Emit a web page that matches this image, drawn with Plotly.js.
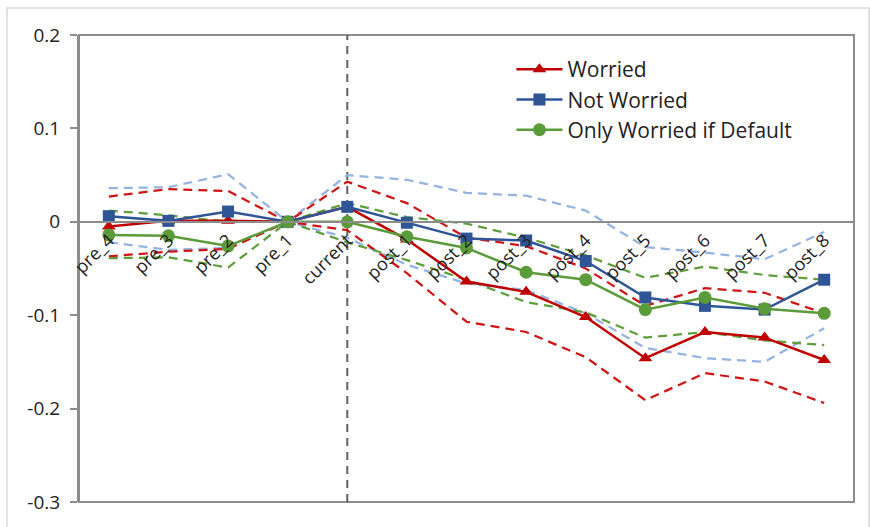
<!DOCTYPE html>
<html>
<head>
<meta charset="utf-8">
<script src="https://cdn.plot.ly/plotly-3.0.1.min.js"></script>
<style>
html,body{margin:0;padding:0;background:#fff;}
#chart{width:870px;height:527px;}
</style>
</head>
<body>
<div id="chart"></div>
<script>
var categories = ['pre_4','pre_3','pre_2','pre_1','current','post_1','post_2','post_3','post_4','post_5','post_6','post_7','post_8'];

var worried    = [-0.005, 0.001, 0.001, 0, 0.016, -0.019, -0.064, -0.075, -0.102, -0.146, -0.118, -0.124, -0.148];
var worriedHi  = [0.027, 0.035, 0.033, 0, 0.043, 0.020, -0.017, -0.026, -0.050, -0.090, -0.071, -0.076, -0.098];
var worriedLo  = [-0.037, -0.032, -0.029, 0, -0.009, -0.055, -0.107, -0.118, -0.145, -0.191, -0.162, -0.171, -0.194];

var notWorried   = [0.006, 0.001, 0.011, 0, 0.016, -0.001, -0.018, -0.020, -0.042, -0.081, -0.090, -0.094, -0.062];
var notWorriedHi = [0.036, 0.037, 0.051, 0, 0.050, 0.045, 0.031, 0.028, 0.012, -0.027, -0.033, -0.040, -0.011];
var notWorriedLo = [-0.022, -0.030, -0.028, 0, -0.017, -0.046, -0.066, -0.073, -0.098, -0.135, -0.146, -0.150, -0.114];

var onlyDefault   = [-0.014, -0.015, -0.026, 0, 0, -0.016, -0.028, -0.054, -0.062, -0.094, -0.081, -0.093, -0.098];
var onlyDefaultHi = [0.012, 0.007, 0, 0, 0.020, 0.005, -0.002, -0.017, -0.036, -0.060, -0.048, -0.057, -0.062];
var onlyDefaultLo = [-0.039, -0.038, -0.049, 0, -0.022, -0.041, -0.062, -0.086, -0.097, -0.124, -0.118, -0.127, -0.132];

var yTickVals = [0.2, 0.1, 0, -0.1, -0.2, -0.3];
var yTickText = ['0.2', '0.1', '0', '-0.1', '-0.2', '-0.3'];

var RED = '#C00000', BLUE = '#2F5597', GREEN = '#5B9B3A', LBLUE = '#95B3E0', DRED = '#D01515', DGREEN = '#5E9E3C';
var DASH = '9px,6px';

function band(y, color) {
  return {x: categories, y: y, type: 'scatter', mode: 'lines', showlegend: false, hoverinfo: 'skip',
          line: {color: color, width: 2.25, dash: DASH}};
}

var traces = [
  band(notWorriedHi, LBLUE), band(notWorriedLo, LBLUE),
  band(worriedHi, DRED), band(worriedLo, DRED),
  band(onlyDefaultHi, DGREEN), band(onlyDefaultLo, DGREEN),
  {x: categories, y: worried, name: 'Worried', type: 'scatter', mode: 'lines+markers',
   line: {color: RED, width: 2.5}, marker: {symbol: 'triangle-up', size: 12, color: RED}},
  {x: categories, y: notWorried, name: 'Not Worried', type: 'scatter', mode: 'lines+markers',
   line: {color: BLUE, width: 2.5}, marker: {symbol: 'square', size: 12, color: BLUE}},
  {x: categories, y: onlyDefault, name: 'Only Worried if Default', type: 'scatter', mode: 'lines+markers',
   line: {color: GREEN, width: 2.5}, marker: {symbol: 'circle', size: 13, color: GREEN}}
];

var L = 79, R = 854, T = 35, B = 502, W = 870, H = 527;
var pw = R - L, ph = B - T;
var zeroFrac = (0 - (-0.3)) / 0.5;
var cur = categories.indexOf('current');

var layout = {
  width: W, height: H,
  margin: {l: L, r: W - R, t: T, b: H - B, pad: 0},
  paper_bgcolor: '#fff', plot_bgcolor: '#fff',
  font: {family: 'Open Sans, sans-serif', color: '#222', size: 18},
  showlegend: true,
  legend: {x: 0.558, y: 0.970, xanchor: 'left', yanchor: 'top', bgcolor: 'rgba(0,0,0,0)',
           itemwidth: 46, font: {size: 21, color: '#222'}, tracegroupgap: 0},
  xaxis: {type: 'category', range: [-0.5, categories.length - 0.5], anchor: 'free', position: zeroFrac,
          showline: true, linecolor: '#8C8C8C', linewidth: 2, showgrid: false, zeroline: false,
          ticks: '', tickangle: -45, tickfont: {size: 18, color: '#222'}, fixedrange: true},
  yaxis: {range: [-0.3, 0.2], tickvals: yTickVals, ticktext: yTickText, showgrid: false, zeroline: false,
          showline: true, linecolor: '#8C8C8C', linewidth: 2, ticks: 'outside', ticklen: 7,
          tickcolor: '#8C8C8C', tickwidth: 2, ticklabelstandoff: 6,
          tickfont: {size: 19, color: '#222'}, fixedrange: true},
  shapes: [
    {type: 'rect', xref: 'paper', yref: 'paper', x0: 0, x1: 1, y0: 0, y1: 1,
     line: {color: '#8C8C8C', width: 2}, layer: 'below'},
    {type: 'line', xref: 'x', yref: 'paper', x0: cur, x1: cur, y0: 0, y1: 1,
     line: {color: '#606060', width: 2, dash: '8px,6px'}, layer: 'below'},
    {type: 'rect', xref: 'paper', yref: 'paper',
     x0: (7 - L) / pw, x1: (869 - L) / pw, y0: (B - 530) / ph, y1: (B - 8) / ph,
     line: {color: '#D9D9D9', width: 1.5}, layer: 'below'}
  ]
};

Plotly.newPlot('chart', traces, layout, {displayModeBar: false, staticPlot: true});
</script>
</body>
</html>
